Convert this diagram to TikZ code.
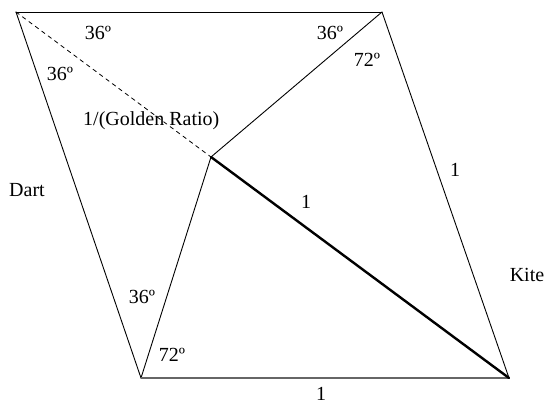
\documentclass[tikz,border=0pt]{standalone}
\usepackage{fontspec}
\setmainfont{Liberation Serif}
\usepackage{tikz}
\usepackage{tkz-euclide}

\begin{document}
\begin{tikzpicture}[x=1pt,y=1pt,font=\fontsize{20}{24}\selectfont]
                \useasboundingbox (0,0) rectangle (547,405);
                \tkzDefPoints{16/393/A, 382/393/B, 211/248/P, 141/27/C, 509/27/D}
                \tkzDrawSegments[black, line width=0.9pt](A,B A,C B,D B,P P,C)
                \tkzDrawSegment[black!60, line width=1.3pt](C,D)
                \tkzDrawSegment[black, line width=2.4pt](P,D)
                \tkzDrawSegment[black, line width=0.8pt, dash pattern=on 4pt off 4pt](A,P)
                % angles
                \node (a1) at (98,372) {36º};
                \node (a2) at (60,331) {36º};
                \node (b1) at (330,372) {36º};
                \node (b2) at (367,345) {72º};
                \node (c1) at (142,108) {36º};
                \node (c2) at (172,50) {72º};
                % lengths and names
                \node[anchor=west, inner sep=0pt] (gr) at (83,284) {1/(Golden Ratio)};
                \node (l1) at (306,203) {1};
                \node (l2) at (455,235) {1};
                \node[inner sep=1pt] (l3) at (321,11) {1};
                \node (dart) at (27,215) {Dart};
                \node (kite) at (527,130) {Kite};
            \end{tikzpicture}
\end{document}
